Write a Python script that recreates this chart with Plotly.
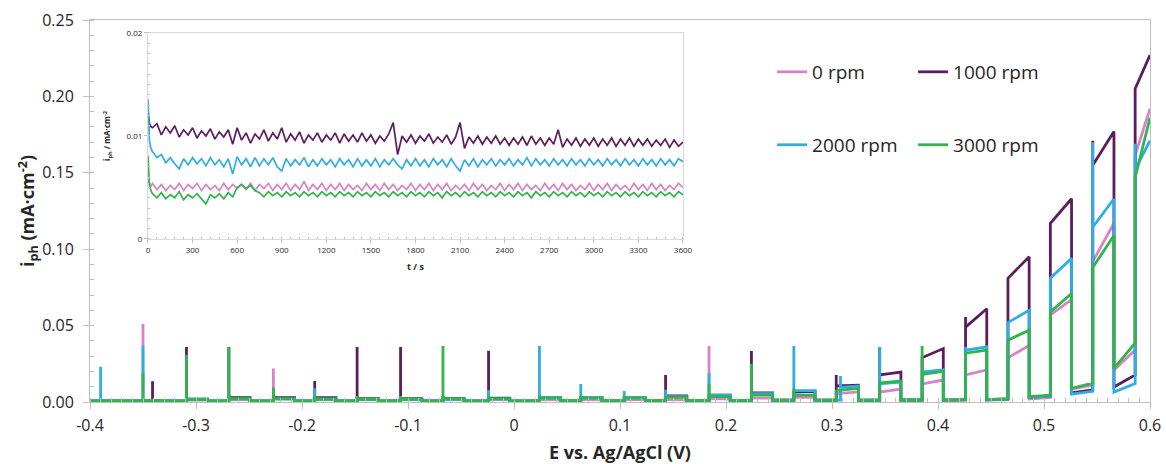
import plotly.graph_objects as go

# ---------------- main chart data (chopped-light LSV) ----------------
SERIES = ["0 rpm", "1000 rpm", "2000 rpm", "3000 rpm"]
COLORS = ["#d783c6", "#5c1d5e", "#2eaee6", "#2fb54a"]

E_START = -0.4
# light-on / light-off potentials of each window (V)
E_ON_COMMON = [-0.390, -0.350, -0.309, -0.269, -0.227, -0.188, -0.148, -0.107, -0.067, -0.024,
               0.024, 0.063, 0.104, 0.143, 0.184, 0.224, 0.264, 0.304, 0.345, 0.385,
               0.426, 0.466, 0.506, 0.546, 0.586]
E_ON_PURPLE = [-0.390, -0.341, -0.309, -0.269, -0.227, -0.188, -0.148, -0.107, -0.067, -0.024,
               0.024, 0.063, 0.104, 0.143, 0.184, 0.224, 0.264, 0.304, 0.345, 0.385,
               0.426, 0.466, 0.506, 0.546, 0.586]
E_ON_BLUE = [-0.390, -0.350, -0.309, -0.269, -0.227, -0.188, -0.148, -0.107, -0.067, -0.024,
             0.024, 0.063, 0.104, 0.143, 0.184, 0.224, 0.264, 0.308, 0.345, 0.385,
             0.426, 0.466, 0.506, 0.546, 0.586]
E_OFF = [-0.370, -0.330, -0.289, -0.249, -0.207, -0.168, -0.128, -0.087, -0.047, -0.004,
         0.044, 0.083, 0.124, 0.163, 0.204, 0.244, 0.284, 0.325, 0.365, 0.405,
         0.446, 0.486, 0.526, 0.566, 0.600]

# 0 rpm (pink)
PINK_SPIKE = [0.0010, 0.0510, 0.0040, 0.0050, 0.0220, 0.0040, 0.0030, 0.0030, 0.0030, 0.0030,
              0.0040, 0.0030, 0.0030, 0.0030, 0.0366, 0.0040, 0.0050, 0.0060, 0.0065, 0.0118,
              0.0177, 0.0290, 0.0570, 0.0920, 0.1615]
PINK_P0 = [0.0005, 0.0010, 0.0012, 0.0015, 0.0020, 0.0015, 0.0015, 0.0015, 0.0015, 0.0015,
           0.0015, 0.0015, 0.0015, 0.0015, 0.0020, 0.0025, 0.0030, 0.0055, 0.0065, 0.0118,
           0.0177, 0.0290, 0.0570, 0.0920, 0.1615]
PINK_P1 = [0.0005, 0.0010, 0.0012, 0.0015, 0.0020, 0.0015, 0.0015, 0.0015, 0.0015, 0.0015,
           0.0015, 0.0015, 0.0015, 0.0015, 0.0020, 0.0025, 0.0030, 0.0066, 0.0085, 0.0144,
           0.0210, 0.0370, 0.0670, 0.1170, 0.1920]
PINK_D0 = [0.0003, 0.0003, 0.0003, 0.0003, 0.0003, 0.0003, 0.0003, 0.0003, 0.0003, 0.0003,
           0.0004, 0.0004, 0.0004, 0.0004, 0.0004, 0.0005, 0.0005, 0.0006, 0.0007, 0.0008,
           0.0012, 0.0020, 0.0085, 0.0210]
PINK_D1 = [0.0003, 0.0003, 0.0003, 0.0003, 0.0003, 0.0003, 0.0003, 0.0003, 0.0003, 0.0003,
           0.0004, 0.0004, 0.0004, 0.0004, 0.0004, 0.0005, 0.0005, 0.0006, 0.0007, 0.0010,
           0.0015, 0.0030, 0.0110, 0.0340]

# 1000 rpm (purple)
PURP_SPIKE = [0.0008, 0.0135, 0.0360, 0.0360, 0.0050, 0.0137, 0.0360, 0.0360, 0.0040, 0.0335,
              0.0050, 0.0040, 0.0040, 0.0177, 0.0050, 0.0334, 0.0070, 0.0177, 0.0360, 0.0300,
              0.0556, 0.0810, 0.1170, 0.1710, 0.2050]
PURP_P0 = [0.0008, 0.0010, 0.0018, 0.0028, 0.0028, 0.0028, 0.0022, 0.0022, 0.0022, 0.0025,
           0.0030, 0.0030, 0.0030, 0.0040, 0.0045, 0.0060, 0.0065, 0.0105, 0.0177, 0.0290,
           0.0490, 0.0810, 0.1170, 0.1550, 0.2050]
PURP_P1 = [0.0008, 0.0010, 0.0018, 0.0028, 0.0028, 0.0028, 0.0022, 0.0022, 0.0022, 0.0025,
           0.0030, 0.0030, 0.0030, 0.0040, 0.0045, 0.0060, 0.0070, 0.0110, 0.0196, 0.0350,
           0.0610, 0.0950, 0.1330, 0.1770, 0.2270]
PURP_D0 = [0.0008, 0.0008, 0.0008, 0.0008, 0.0008, 0.0008, 0.0008, 0.0008, 0.0008, 0.0008,
           0.0010, 0.0010, 0.0010, 0.0010, 0.0010, 0.0012, 0.0012, 0.0012, 0.0013, 0.0014,
           0.0015, 0.0030, 0.0060, 0.0098]
PURP_D1 = [0.0008, 0.0008, 0.0008, 0.0008, 0.0008, 0.0008, 0.0008, 0.0008, 0.0008, 0.0008,
           0.0010, 0.0010, 0.0010, 0.0010, 0.0010, 0.0012, 0.0012, 0.0012, 0.0013, 0.0016,
           0.0020, 0.0040, 0.0080, 0.0177]

# 2000 rpm (blue)
BLUE_SPIKE = [0.0230, 0.0370, 0.0040, 0.0050, 0.0040, 0.0090, 0.0040, 0.0040, 0.0040, 0.0078,
              0.0366, 0.0118, 0.0072, 0.0080, 0.0190, 0.0060, 0.0366, 0.0170, 0.0360, 0.0196,
              0.0360, 0.0520, 0.0810, 0.1700, 0.1690]
BLUE_P0 = [0.0010, 0.0010, 0.0018, 0.0020, 0.0020, 0.0020, 0.0018, 0.0018, 0.0018, 0.0020,
           0.0030, 0.0030, 0.0030, 0.0035, 0.0045, 0.0055, 0.0074, 0.0095, 0.0120, 0.0196,
           0.0340, 0.0520, 0.0810, 0.1145, 0.1520]
BLUE_P1 = [0.0010, 0.0010, 0.0018, 0.0020, 0.0020, 0.0020, 0.0018, 0.0018, 0.0018, 0.0020,
           0.0030, 0.0030, 0.0030, 0.0035, 0.0045, 0.0055, 0.0074, 0.0105, 0.0130, 0.0210,
           0.0360, 0.0600, 0.0940, 0.1330, 0.1710]
BLUE_D0 = [0.0008, 0.0008, 0.0008, 0.0008, 0.0008, 0.0008, 0.0008, 0.0008, 0.0008, 0.0008,
           0.0010, 0.0010, 0.0010, 0.0010, 0.0010, 0.0012, 0.0012, 0.0012, 0.0013, 0.0014,
           0.0015, 0.0030, 0.0052, 0.0065]
BLUE_D1 = [0.0008, 0.0008, 0.0008, 0.0008, 0.0008, 0.0008, 0.0008, 0.0008, 0.0008, 0.0008,
           0.0010, 0.0010, 0.0010, 0.0010, 0.0010, 0.0012, 0.0012, 0.0012, 0.0013, 0.0016,
           0.0020, 0.0040, 0.0070, 0.0120]

# 3000 rpm (green)
GREEN_SPIKE = [0.0008, 0.0190, 0.0310, 0.0360, 0.0095, 0.0040, 0.0040, 0.0040, 0.0366, 0.0040,
               0.0040, 0.0040, 0.0040, 0.0040, 0.0120, 0.0250, 0.0090, 0.0080, 0.0130, 0.0366,
               0.0320, 0.0405, 0.0590, 0.0880, 0.1470]
GREEN_P0 = [0.0008, 0.0010, 0.0015, 0.0020, 0.0020, 0.0018, 0.0018, 0.0018, 0.0020, 0.0020,
            0.0025, 0.0025, 0.0025, 0.0030, 0.0035, 0.0045, 0.0045, 0.0075, 0.0125, 0.0180,
            0.0320, 0.0405, 0.0590, 0.0880, 0.1470]
GREEN_P1 = [0.0008, 0.0010, 0.0015, 0.0020, 0.0020, 0.0018, 0.0018, 0.0018, 0.0020, 0.0020,
            0.0025, 0.0025, 0.0025, 0.0030, 0.0035, 0.0045, 0.0045, 0.0090, 0.0137, 0.0200,
            0.0340, 0.0470, 0.0710, 0.1090, 0.1860]
GREEN_D0 = [0.0008, 0.0008, 0.0008, 0.0008, 0.0008, 0.0008, 0.0008, 0.0008, 0.0008, 0.0008,
            0.0010, 0.0010, 0.0010, 0.0010, 0.0010, 0.0012, 0.0012, 0.0012, 0.0013, 0.0014,
            0.0015, 0.0035, 0.0090, 0.0220]
GREEN_D1 = [0.0008, 0.0008, 0.0008, 0.0008, 0.0008, 0.0008, 0.0008, 0.0008, 0.0008, 0.0008,
            0.0010, 0.0010, 0.0010, 0.0010, 0.0010, 0.0012, 0.0012, 0.0012, 0.0013, 0.0016,
            0.0020, 0.0045, 0.0124, 0.0386]

START_DARK = [0.0003, 0.0008, 0.0008, 0.0008]

X_TICKS = [-0.4, -0.3, -0.2, -0.1, 0.0, 0.1, 0.2, 0.3, 0.4, 0.5, 0.6]
X_TICKTEXT = ["-0.4", "-0.3", "-0.2", "-0.1", "0", "0.1", "0.2", "0.3", "0.4", "0.5", "0.6"]
Y_TICKS = [0.0, 0.05, 0.10, 0.15, 0.20, 0.25]
Y_TICKTEXT = ["0.00", "0.05", "0.10", "0.15", "0.20", "0.25"]

# ---------------- inset data (chronoamperometry) ----------------
T = [0, 5, 10, 20] + list(range(30, 3601, 30))

INSET_PURPLE = [0.0125, 0.0117, 0.0112, 0.0109,
    0.0108, 0.0112, 0.0101, 0.0109, 0.0103, 0.0110, 0.0099, 0.0106, 0.0101, 0.0108,
    0.0098, 0.0105, 0.0100, 0.0107, 0.0097, 0.0104, 0.0099, 0.0106, 0.0092, 0.0108,
    0.0096, 0.0103, 0.0093, 0.0102, 0.0097, 0.0106, 0.0095, 0.0103, 0.0097, 0.0108,
    0.0094, 0.0102, 0.0096, 0.0104, 0.0093, 0.0101, 0.0096, 0.0103, 0.0094, 0.0101,
    0.0096, 0.0103, 0.0093, 0.0102, 0.0095, 0.0101, 0.0094, 0.0103, 0.0095, 0.0101,
    0.0093, 0.0100, 0.0095, 0.0102, 0.0113, 0.0082, 0.0100, 0.0094, 0.0101, 0.0093,
    0.0100, 0.0095, 0.0102, 0.0093, 0.0099, 0.0094, 0.0101, 0.0092, 0.0099, 0.0113,
    0.0088, 0.0099, 0.0093, 0.0100, 0.0092, 0.0099, 0.0093, 0.0100, 0.0092, 0.0098,
    0.0091, 0.0098, 0.0092, 0.0099, 0.0091, 0.0100, 0.0092, 0.0098, 0.0091, 0.0098,
    0.0092, 0.0106, 0.0089, 0.0097, 0.0091, 0.0098, 0.0090, 0.0097, 0.0091, 0.0098,
    0.0090, 0.0097, 0.0091, 0.0098, 0.0090, 0.0097, 0.0091, 0.0098, 0.0090, 0.0097,
    0.0091, 0.0097, 0.0090, 0.0096, 0.0091, 0.0097, 0.0089, 0.0096, 0.0090, 0.0094]

INSET_BLUE = [0.0136, 0.0105, 0.0095, 0.0088,
    0.0085, 0.0079, 0.0082, 0.0074, 0.0079, 0.0073, 0.0068, 0.0078, 0.0072, 0.0079,
    0.0073, 0.0078, 0.0071, 0.0079, 0.0072, 0.0077, 0.0070, 0.0078, 0.0063, 0.0080,
    0.0072, 0.0078, 0.0070, 0.0079, 0.0071, 0.0078, 0.0072, 0.0079, 0.0070, 0.0066,
    0.0078, 0.0071, 0.0077, 0.0072, 0.0079, 0.0070, 0.0077, 0.0071, 0.0078, 0.0072,
    0.0077, 0.0070, 0.0078, 0.0072, 0.0077, 0.0070, 0.0078, 0.0071, 0.0077, 0.0071,
    0.0078, 0.0070, 0.0077, 0.0072, 0.0078, 0.0072, 0.0068, 0.0077, 0.0071, 0.0078,
    0.0071, 0.0077, 0.0070, 0.0078, 0.0072, 0.0077, 0.0070, 0.0078, 0.0071, 0.0066,
    0.0077, 0.0071, 0.0078, 0.0070, 0.0077, 0.0072, 0.0078, 0.0071, 0.0077, 0.0072,
    0.0078, 0.0071, 0.0077, 0.0072, 0.0079, 0.0071, 0.0078, 0.0072, 0.0077, 0.0071,
    0.0078, 0.0072, 0.0077, 0.0071, 0.0078, 0.0072, 0.0077, 0.0071, 0.0078, 0.0072,
    0.0077, 0.0071, 0.0078, 0.0072, 0.0077, 0.0071, 0.0078, 0.0072, 0.0077, 0.0071,
    0.0078, 0.0072, 0.0077, 0.0071, 0.0078, 0.0072, 0.0077, 0.0071, 0.0078, 0.0075]

INSET_PINK = [0.0057, 0.0055, 0.0053, 0.0051,
    0.0054, 0.0048, 0.0053, 0.0047, 0.0052, 0.0048, 0.0054, 0.0047, 0.0053, 0.0049,
    0.0054, 0.0047, 0.0053, 0.0048, 0.0052, 0.0047, 0.0054, 0.0048, 0.0053, 0.0049,
    0.0053, 0.0048, 0.0054, 0.0047, 0.0053, 0.0049, 0.0054, 0.0047, 0.0053, 0.0048,
    0.0054, 0.0047, 0.0053, 0.0048, 0.0056, 0.0047, 0.0053, 0.0048, 0.0054, 0.0047,
    0.0053, 0.0048, 0.0054, 0.0047, 0.0053, 0.0048, 0.0052, 0.0047, 0.0054, 0.0048,
    0.0053, 0.0047, 0.0054, 0.0048, 0.0053, 0.0047, 0.0052, 0.0048, 0.0054, 0.0047,
    0.0053, 0.0048, 0.0054, 0.0047, 0.0053, 0.0048, 0.0054, 0.0047, 0.0052, 0.0048,
    0.0053, 0.0047, 0.0054, 0.0048, 0.0053, 0.0047, 0.0052, 0.0048, 0.0054, 0.0047,
    0.0053, 0.0048, 0.0054, 0.0047, 0.0053, 0.0048, 0.0052, 0.0047, 0.0054, 0.0048,
    0.0053, 0.0047, 0.0054, 0.0048, 0.0053, 0.0047, 0.0052, 0.0048, 0.0054, 0.0047,
    0.0053, 0.0048, 0.0054, 0.0047, 0.0053, 0.0048, 0.0052, 0.0047, 0.0054, 0.0048,
    0.0053, 0.0047, 0.0054, 0.0048, 0.0053, 0.0047, 0.0052, 0.0048, 0.0054, 0.0050]

INSET_GREEN = [0.0081, 0.0060, 0.0052, 0.0047,
    0.0044, 0.0040, 0.0045, 0.0039, 0.0043, 0.0040, 0.0046, 0.0038, 0.0043, 0.0040,
    0.0044, 0.0039, 0.0034, 0.0043, 0.0040, 0.0044, 0.0039, 0.0045, 0.0041, 0.0050,
    0.0053, 0.0049, 0.0052, 0.0047, 0.0045, 0.0041, 0.0046, 0.0042, 0.0045, 0.0041,
    0.0046, 0.0042, 0.0045, 0.0041, 0.0046, 0.0042, 0.0045, 0.0041, 0.0046, 0.0042,
    0.0045, 0.0041, 0.0046, 0.0042, 0.0045, 0.0041, 0.0046, 0.0042, 0.0045, 0.0041,
    0.0046, 0.0042, 0.0045, 0.0041, 0.0046, 0.0042, 0.0045, 0.0041, 0.0046, 0.0042,
    0.0045, 0.0041, 0.0046, 0.0042, 0.0045, 0.0040, 0.0046, 0.0042, 0.0045, 0.0041,
    0.0046, 0.0042, 0.0045, 0.0041, 0.0046, 0.0042, 0.0045, 0.0041, 0.0046, 0.0042,
    0.0045, 0.0041, 0.0046, 0.0042, 0.0045, 0.0040, 0.0046, 0.0042, 0.0045, 0.0041,
    0.0046, 0.0042, 0.0045, 0.0041, 0.0046, 0.0042, 0.0045, 0.0041, 0.0046, 0.0042,
    0.0045, 0.0041, 0.0046, 0.0042, 0.0045, 0.0041, 0.0046, 0.0042, 0.0045, 0.0041,
    0.0046, 0.0042, 0.0045, 0.0041, 0.0046, 0.0042, 0.0045, 0.0041, 0.0046, 0.0043]

INSET_X_TICKS = [0, 300, 600, 900, 1200, 1500, 1800, 2100, 2400, 2700, 3000, 3300, 3600]
INSET_Y_TICKS = [0, 0.01, 0.02]
INSET_Y_TICKTEXT = ["0", "0.01", "0.02"]

for arr in (INSET_PURPLE, INSET_BLUE, INSET_PINK, INSET_GREEN):
    assert len(arr) == len(T), len(arr)


def build(e_on, e_off, spike, p0, p1, d0, d1, start):
    xs, ys = [E_START], [start]
    n = len(e_on)
    for k in range(n):
        prev = start if k == 0 else d1[k - 1]
        xs += [e_on[k], e_on[k], e_on[k], e_off[k]]
        ys += [prev, spike[k], p0[k], p1[k]]
        if k < n - 1:
            xs += [e_off[k], e_on[k + 1]]
            ys += [d0[k], d1[k]]
    return xs, ys


MAIN = [
    (E_ON_COMMON, PINK_SPIKE, PINK_P0, PINK_P1, PINK_D0, PINK_D1),
    (E_ON_PURPLE, PURP_SPIKE, PURP_P0, PURP_P1, PURP_D0, PURP_D1),
    (E_ON_BLUE, BLUE_SPIKE, BLUE_P0, BLUE_P1, BLUE_D0, BLUE_D1),
    (E_ON_COMMON, GREEN_SPIKE, GREEN_P0, GREEN_P1, GREEN_D0, GREEN_D1),
]
LEGEND_GROUP = ["legend", "legend", "legend2", "legend2"]
INSET = [INSET_PINK, INSET_PURPLE, INSET_BLUE, INSET_GREEN]

FONT = "Open Sans, Lato, sans-serif"
TXT = "#262626"
AX = "#bfbfbf"

fig = go.Figure()
for i, (eon, sp, a0, a1, b0, b1) in enumerate(MAIN):
    xs, ys = build(eon, E_OFF, sp, a0, a1, b0, b1, START_DARK[i])
    fig.add_trace(go.Scatter(x=xs, y=ys, mode="lines", name=SERIES[i],
                             line=dict(color=COLORS[i], width=2.8),
                             legend=LEGEND_GROUP[i]))

for i, vals in enumerate(INSET):
    fig.add_trace(go.Scatter(x=T, y=vals, mode="lines", showlegend=False,
                             line=dict(color=COLORS[i], width=1.7),
                             xaxis="x2", yaxis="y2"))

legend_common = dict(orientation="h", xanchor="left", yanchor="middle",
                     font=dict(family=FONT, size=19, color=TXT),
                     entrywidth=96, entrywidthmode="pixels",
                     bgcolor="rgba(0,0,0,0)", borderwidth=0, itemwidth=30,
                     tracegroupgap=0)

fig.update_layout(
    width=1166, height=464,
    margin=dict(l=90, r=16, t=20, b=62, autoexpand=False),
    paper_bgcolor="white", plot_bgcolor="white",
    font=dict(family=FONT, color=TXT),
    legend=dict(x=0.6435, y=0.864, **legend_common),
    legend2=dict(x=0.6435, y=0.673, **legend_common),
    xaxis=dict(range=[-0.4, 0.6], tickmode="array", tickvals=X_TICKS, ticktext=X_TICKTEXT,
               showline=True, linecolor=AX, linewidth=1, mirror=True, automargin=False,
               ticks="outside", ticklen=6, tickcolor=AX, showgrid=False, zeroline=False,
               tickfont=dict(size=16, color=TXT), ticklabelstandoff=3,
               minor=dict(tickmode="linear", tick0=-0.4, dtick=0.01, ticks="inside",
                          ticklen=4, tickcolor=AX, showgrid=False),
               title=dict(text="<b>E vs. Ag/AgCl (V)</b>", font=dict(size=18, color=TXT),
                          standoff=11)),
    yaxis=dict(range=[0, 0.25], tickmode="array", tickvals=Y_TICKS, ticktext=Y_TICKTEXT,
               showline=True, linecolor=AX, linewidth=1, mirror=True, automargin=False,
               ticks="outside", ticklen=6, tickcolor=AX, showgrid=False, zeroline=False,
               tickfont=dict(size=16, color=TXT), ticklabelstandoff=6,
               minor=dict(tickmode="linear", tick0=0, dtick=0.01, ticks="inside",
                          ticklen=4, tickcolor=AX, showgrid=False),
               title=dict(text="<b>i<sub>ph</sub> (mA·cm<sup>-2</sup>)</b>",
                          font=dict(size=18, color=TXT), standoff=2)),
    xaxis2=dict(domain=[0.0547, 0.5594], anchor="y2", range=[0, 3600],
                tickmode="array", tickvals=INSET_X_TICKS, automargin=False,
                showline=True, linecolor="#d9d9d9", linewidth=1, mirror=True,
                ticks="outside", ticklen=3, tickcolor="#bfbfbf", showgrid=False, zeroline=False,
                tickfont=dict(size=8, color=TXT),
                minor=dict(tickmode="linear", tick0=0, dtick=60, ticks="inside",
                           ticklen=2, tickcolor="#bfbfbf", showgrid=False),
                title=dict(text="<b>t / s</b>", font=dict(size=9, color=TXT), standoff=10)),
    yaxis2=dict(domain=[0.4267, 0.966], anchor="x2", range=[0, 0.02],
                tickmode="array", tickvals=INSET_Y_TICKS, ticktext=INSET_Y_TICKTEXT,
                automargin=False,
                showline=True, linecolor="#d9d9d9", linewidth=1, mirror=True,
                ticks="outside", ticklen=3, tickcolor="#bfbfbf", showgrid=False, zeroline=False,
                tickfont=dict(size=8, color=TXT),
                minor=dict(tickmode="linear", tick0=0, dtick=0.001, ticks="inside",
                           ticklen=2, tickcolor="#bfbfbf", showgrid=False),
                title=dict(text="<b>i<sub>ph</sub> / mA·cm<sup>-2</sup></b>",
                           font=dict(size=8, color=TXT), standoff=14)),
)

fig.write_html("out.html")
